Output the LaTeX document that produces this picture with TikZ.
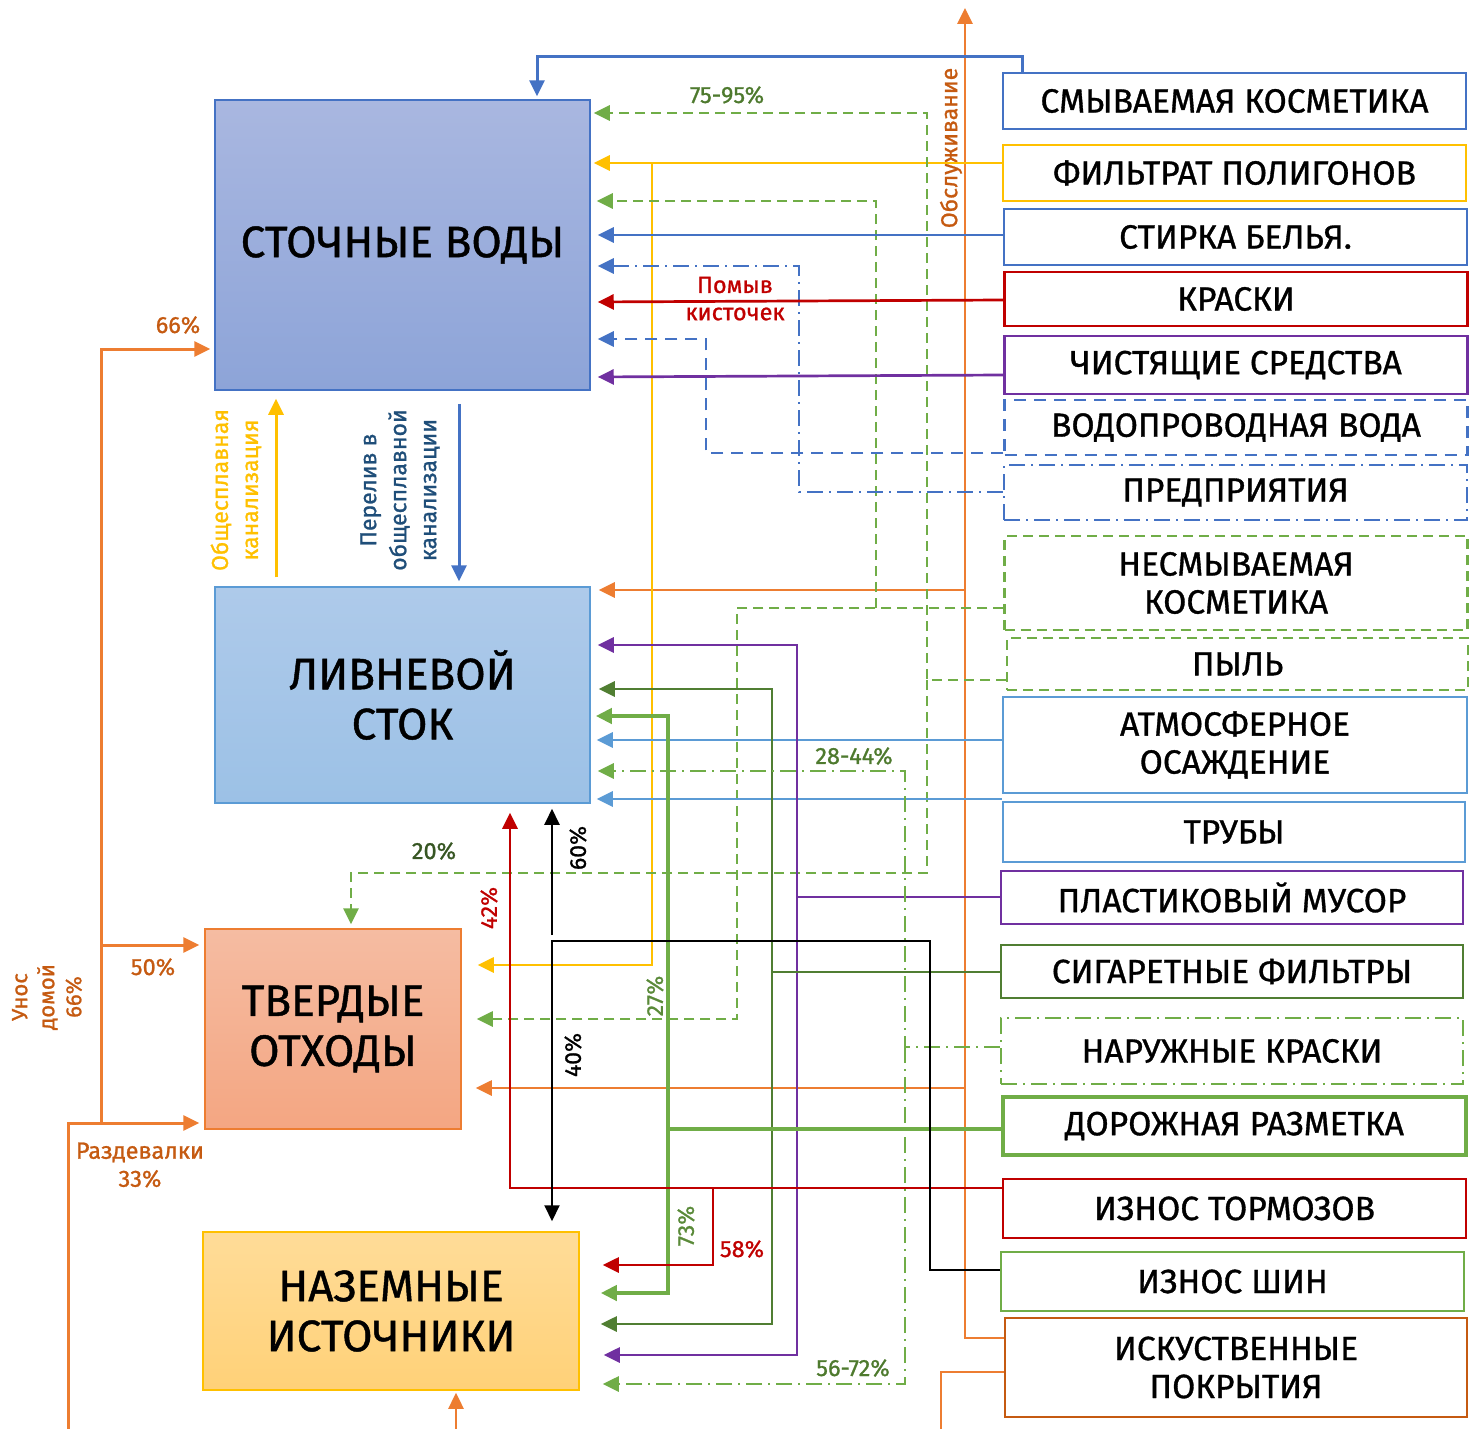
\documentclass[tikz,border=0pt]{standalone}
\usepackage{fontspec}
\setmainfont{Fira Sans}[FakeBold=1.0]
\usetikzlibrary{arrows.meta}
\definecolor{cblue}{HTML}{4472C4}
\definecolor{clblue}{HTML}{5B9BD5}
\definecolor{cyel}{HTML}{FFC000}
\definecolor{cred}{HTML}{C00000}
\definecolor{cpur}{HTML}{7030A0}
\definecolor{cgreen}{HTML}{70AD47}
\definecolor{cdgreen}{HTML}{507E32}
\definecolor{corange}{HTML}{ED7D31}
\definecolor{cdorange}{HTML}{C55A11}
\definecolor{cdblue}{HTML}{1F4E79}
\definecolor{clab}{HTML}{4E7A2E}
\definecolor{clabd}{HTML}{375623}
\begin{document}
\begin{tikzpicture}[x=1pt,y=-1pt,
  rbox/.style={draw,line width=2.5pt,minimum width=463,inner sep=0pt,align=center,font=\fontsize{33.5}{38}\selectfont},
  bigbox/.style={draw,line width=1.5pt,inner sep=0pt,align=center,font=\fontsize{44}{50}\selectfont},
  arr/.style={line width=2.7pt,-{Triangle[length=16pt,width=15pt]}},
  plain/.style={line width=2.7pt},
  gdash/.style={dash pattern=on 10pt off 6pt},
  bdash/.style={dash pattern=on 12pt off 8pt},
  ddot/.style={dash pattern=on 16pt off 6pt on 2pt off 6pt},
  lab/.style={inner sep=1pt,font=\fontsize{23.5}{28}\selectfont},
  rlab/.style={inner sep=1pt,font=\fontsize{23}{30}\selectfont,align=center,rotate=90}
]
\useasboundingbox (0,0) rectangle (1475,1429);

% left boxes
\node[bigbox,draw=cblue,top color={rgb,255:red,169;green,183;blue,224},bottom color={rgb,255:red,141;green,164;blue,216},minimum width=375,minimum height=290] (sv) at (402.5,245) {СТОЧНЫЕ ВОДЫ};
\node[bigbox,draw=clblue,top color={rgb,255:red,174;green,202;blue,234},bottom color={rgb,255:red,156;green,193;blue,230},minimum width=375,minimum height=216] (ls) at (402.5,695) {ЛИВНЕВОЙ\\СТОК};
\node[bigbox,draw=corange,top color={rgb,255:red,245;green,188;blue,162},bottom color={rgb,255:red,244;green,166;blue,130},minimum width=256,minimum height=200] (to) at (333,1029) {ТВЕРДЫЕ\\ОТХОДЫ};
\node[bigbox,draw=cyel,top color={rgb,255:red,255;green,220;blue,152},bottom color={rgb,255:red,255;green,209;blue,120},minimum width=376,minimum height=158] (ns) at (391,1311) {НАЗЕМНЫЕ\\ИСТОЧНИКИ};

% right boxes
\node[rbox,draw=cblue,minimum height=56] (sk) at (1234.5,101) {СМЫВАЕМАЯ КОСМЕТИКА};
\node[rbox,draw=cyel,minimum height=56] (fp) at (1234.5,173) {ФИЛЬТРАТ ПОЛИГОНОВ};
\node[rbox,draw=cblue,minimum height=56] (sb) at (1235.5,237) {СТИРКА БЕЛЬЯ.};
\node[rbox,draw=cred,minimum height=54] (kr) at (1236,299) {КРАСКИ};
\node[rbox,draw=cpur,minimum height=58] (cs) at (1236,365) {ЧИСТЯЩИЕ СРЕДСТВА};
\node[rbox,draw=cblue,bdash,minimum height=55] (vv) at (1236,427.5) {ВОДОПРОВОДНАЯ ВОДА};
\node[rbox,draw=cblue,ddot,minimum height=55] (pr) at (1235.5,492.5) {ПРЕДПРИЯТИЯ};
\node[rbox,draw=cgreen,gdash,minimum height=94] (nk) at (1236,583) {НЕСМЫВАЕМАЯ\\КОСМЕТИКА};
\node[rbox,draw=cgreen,gdash,minimum height=52,minimum width=461] (py) at (1237.5,664) {ПЫЛЬ};
\node[rbox,draw=clblue,minimum height=96,minimum width=464] (ao) at (1235,745) {АТМОСФЕРНОЕ\\ОСАЖДЕНИЕ};
\node[rbox,draw=clblue,minimum height=60,minimum width=462] (tr) at (1234,832) {ТРУБЫ};
\node[rbox,draw=cpur,minimum height=53,minimum width=462] (pm) at (1232,897.5) {ПЛАСТИКОВЫЙ МУСОР};
\node[rbox,draw=cdgreen,minimum height=53,minimum width=462] (sf) at (1232,971.5) {СИГАРЕТНЫЕ ФИЛЬТРЫ};
\node[rbox,draw=cgreen,ddot,minimum height=66,minimum width=462] (nkr) at (1232,1051) {НАРУЖНЫЕ КРАСКИ};
\node[rbox,draw=cgreen,line width=4.5pt,minimum height=58] (dr) at (1234.5,1126) {ДОРОЖНАЯ РАЗМЕТКА};
\node[rbox,draw=cred,minimum height=59] (it) at (1234.5,1208.5) {ИЗНОС ТОРМОЗОВ};
\node[rbox,draw=cgreen,minimum height=59] (ish) at (1232.5,1281.5) {ИЗНОС ШИН};
\node[rbox,draw=cdorange,minimum height=99,minimum width=462] (ip) at (1236,1367.5) {ИСКУСТВЕННЫЕ\\ПОКРЫТИЯ};

% orange service line
\coordinate (top) at (965,8);
\draw[arr,corange] (ip.west |- 0,1338) -| (top);
\draw[arr,corange,shorten >=8pt] (965,590) -- (ls.east |- 0,590);
\draw[arr,corange,shorten >=14pt] (965,1088) -- (to.east |- 0,1088);
\coordinate (ipout) at (941,1429);
\draw[plain,corange] (ip.west |- 0,1372) -| (ipout);
\node[rlab,text=cdorange] (obs) at (951,148) {Обслуживание};

% smyvaemaya
\draw[arr,cblue,line width=3pt,shorten >=3pt] (sk.north -| 1022,0) |- (537,57) -- (sv.north -| 537,0);
% yellow
\draw[arr,cyel,shorten >=3pt] (fp.west |- 0,163) -- (sv.east |- 0,163);
\draw[arr,cyel,shorten >=16pt] (652,163) |- (to.east |- 0,965);
% green dashed nesmyv
\draw[arr,cgreen,gdash,shorten >=15pt] (nk.west |- 0,608) -| (737,1019) -- (to.east |- 0,1019);
\draw[arr,cgreen,gdash,shorten >=6pt] (876,608) |- (sv.east |- 0,201);
% pyl
\draw[arr,cgreen,gdash,shorten >=3pt] (py.west |- 0,680) -| (927,113) -- (sv.east |- 0,113);
\draw[arr,cgreen,gdash,shorten >=4pt] (927,680) |- (351,873) -- (to.north -| 351,0);
\node[lab,text=clab] (l7595) at (727,95) {75-95\%};
\node[lab,text=clabd] (l20) at (434,851) {20\%};
% stirka
\draw[arr,cblue,shorten >=7pt] (sb.west |- 0,235) -- (sv.east |- 0,235);
% predpriyatiya
\draw[arr,cblue,ddot,shorten >=7pt] (pr.west |- 0,492) -| (799,266) -- (sv.east |- 0,266);
% kraski
\draw[arr,cred,shorten >=7pt] (kr.west |- 0,300) -- (sv.east |- 0,302);
\node[lab,text=cred] (pom1) at (735,285) {Помыв};
\node[lab,text=cred] (pom2) at (735,314) {кисточек};
% vodoprovod
\draw[arr,cblue,bdash,shorten >=7pt] (vv.west |- 0,453) -| (706,339) -- (sv.east |- 0,339);
% chistyashchie
\draw[arr,cpur,shorten >=7pt] (cs.west |- 0,375) -- (sv.east |- 0,377);

% between sv and ls
\draw[arr,cyel,line width=3pt,shorten <=9pt,shorten >=8pt] (ls.north -| 276,0) -- (sv.south -| 276,0);
\draw[arr,cblue,line width=3pt,shorten <=13pt,shorten >=5pt] (sv.south -| 459,0) -- (ls.north -| 459,0);
\node[rlab,text=cyel] (obsch) at (236,490) {Общесплавная\\канализация};
\node[rlab,text=cdblue] (perel) at (400,490) {Перелив в\\общесплавной\\канализации};

% atm, truby
\draw[arr,clblue,shorten >=6pt] (ao.west |- 0,740) -- (ls.east |- 0,740);
\draw[arr,clblue,shorten >=6pt] (tr.west |- 0,799) -- (ls.east |- 0,799);
% plastik
\draw[arr,cpur,shorten >=7pt] (pm.west |- 0,897) -| (797,645) -- (ls.east |- 0,645);
\draw[arr,cpur,shorten >=24pt] (797,897) |- (ns.east |- 0,1355);
% sigaret
\draw[arr,cdgreen,shorten >=8pt] (sf.west |- 0,972) -| (772,689) -- (ls.east |- 0,689);
\draw[arr,cdgreen,shorten >=21pt] (772,972) |- (ns.east |- 0,1324);
% naruzhnye kraski
\draw[arr,cgreen,ddot,shorten >=7pt] (nkr.west |- 0,1047) -| (905,771) -- (ls.east |- 0,771);
\draw[arr,cgreen,ddot,shorten >=23pt] (905,1047) |- (ns.east |- 0,1384);
\node[lab,text=clab] (l2844) at (854,756) {28-44\%};
\node[lab,text=clab] (l5672) at (853,1368) {56-72\%};
% dorozhnaya
\draw[arr,cgreen,line width=4.5pt,shorten >=5pt] (dr.west |- 0,1129) -| (668,716) -- (ls.east |- 0,716);
\draw[arr,cgreen,line width=4.5pt,shorten >=21pt] (668,1129) |- (ns.east |- 0,1293);
\node[rlab,text=cgreen!80!black] (l27) at (655,996) {27\%};
\node[rlab,text=cgreen!80!black] (l73) at (686,1226) {73\%};
% tormoza
\draw[arr,cred,shorten >=9pt] (it.west |- 0,1188) -| (ls.south -| 510,0);
\draw[arr,cred,shorten >=23pt] (713,1188) |- (ns.east |- 0,1265);
\node[rlab,text=cred] (l42) at (489,908) {42\%};
\node[lab,text=cred] (l58) at (742,1249) {58\%};
% shiny
\draw[arr,black,line width=2pt,shorten >=10pt] (ish.west |- 0,1270) -| (930,941) -- (552,941) -- (ns.north -| 552,0);
\draw[arr,black,line width=2pt,shorten >=5pt] (552,935) -- (ls.south -| 552,0);
\node[rlab,text=black] (l60) at (578,848) {60\%};
\node[rlab,text=black] (l40) at (573,1055) {40\%};

% left orange
\coordinate (lbot) at (68,1429);
\draw[arr,corange,line width=3pt,shorten >=5pt] (lbot) |- (to.west |- 0,1123);
\draw[arr,corange,line width=3pt,shorten >=4pt] (101,1123) |- (sv.west |- 0,349);
\draw[arr,corange,line width=3pt,shorten >=5pt] (101,945) -- (to.west |- 0,945);
\coordinate (nbot) at (456,1429);
\draw[arr,corange,line width=2.5pt,shorten >=2pt] (nbot) -- (ns.south -| 456,0);
\node[lab,text=cdorange] (l66) at (178,325) {66\%};
\node[lab,text=cdorange] (l50) at (153,967) {50\%};
\node[lab,text=cdorange,align=center] (razd) at (140,1165) {Раздевалки\\33\%};
\node[rlab,text=cdorange,font=\fontsize{22}{27}\selectfont] (unos) at (47,997) {Унос\\домой\\66\%};
\end{tikzpicture}
\end{document}
